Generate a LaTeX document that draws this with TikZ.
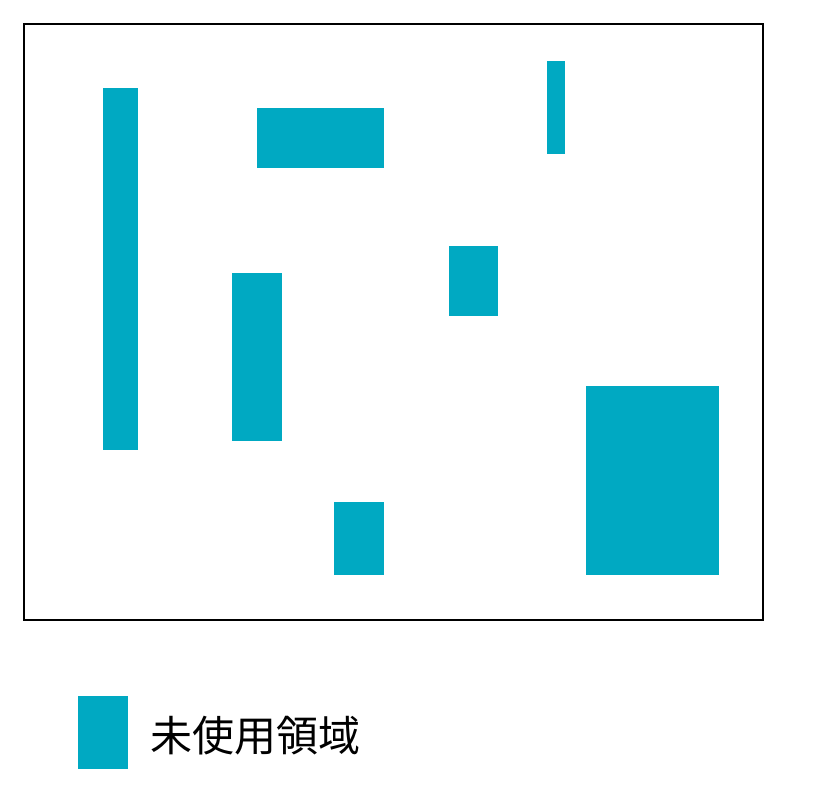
\documentclass[tikz,border=0pt]{standalone}
\usepackage{fontspec}
\newfontfamily\cjk{Noto Sans CJK JP}
\definecolor{freecol}{RGB}{0,169,194}
\tikzset{
  area/.style={fill=freecol},
  frame/.style={draw=black, line width=1.6pt},
}
\begin{document}
\begin{tikzpicture}[x=1pt, y=-1pt]
\useasboundingbox (0,0) rectangle (818,794);
\draw[frame] (24,24) rectangle (763,620);
\fill[area] (103,88) rectangle (138,450);
\fill[area] (257,108) rectangle (384,168);
\fill[area] (547,61) rectangle (565,154);
\fill[area] (449,246) rectangle (498,316);
\fill[area] (232,273) rectangle (282,441);
\fill[area] (586,386) rectangle (719,575);
\fill[area] (334,502) rectangle (384,575);
\node[area, minimum width=50pt, minimum height=73pt, inner sep=0pt] (key) at (102.5,732.5) {};
\node[anchor=west, inner sep=0pt, font=\cjk\fontsize{42}{42}\selectfont] (keylabel) at (150,736) {未使用領域};
\end{tikzpicture}
\end{document}
